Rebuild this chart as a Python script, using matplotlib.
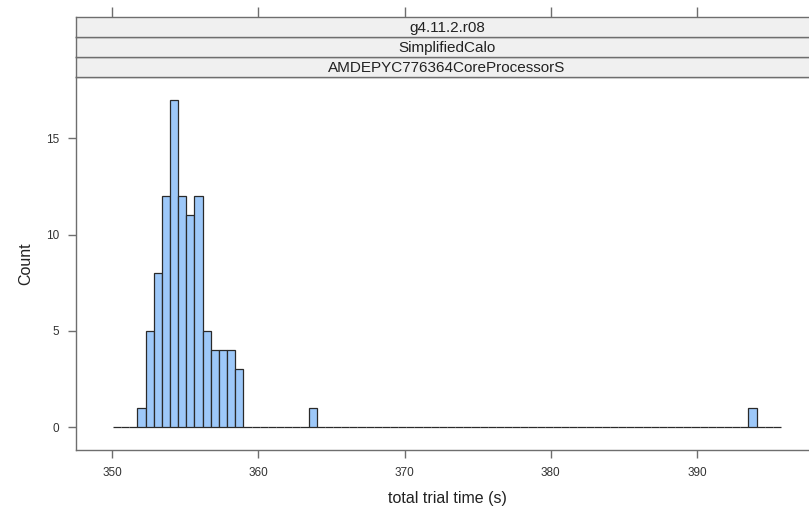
import numpy as np
import matplotlib.pyplot as plt

# histogram breaks (lattice style, equal widths)
brk_start = 350.07
brk_width = 0.557
n_bins = 82

# counts of the main cluster, starting at bin 3
main_counts = [1, 5, 8, 12, 17, 12, 11, 12, 5, 4, 4, 4, 3]
main_first_bin = 3
# lone slow runs
outlier_bins = [24, 78]
outlier_counts = [1, 1]

strip_labels = ["g4.11.2.r08", "SimplifiedCalo", "AMDEPYC776364CoreProcessorS"]
x_ticks = [350, 360, 370, 380, 390]
y_ticks = [0, 5, 10, 15]

counts = np.zeros(n_bins)
counts[main_first_bin:main_first_bin + len(main_counts)] = main_counts
for b, c in zip(outlier_bins, outlier_counts):
    counts[b] = c
edges = brk_start + brk_width * np.arange(n_bins + 1)

plt.rcParams['font.family'] = ['Liberation Sans', 'DejaVu Sans']
W, H = 809, 507
fig = plt.figure(figsize=(W / 100, H / 100), dpi=100)

def px(x0, y0, x1, y1):
    return [x0 / W, 1 - y1 / H, (x1 - x0) / W, (y1 - y0) / H]

ax = fig.add_axes(px(76, 77, 818, 450))
grey = '#6e6e6e'

ax.bar(edges[:-1], counts, width=brk_width, align='edge',
       color='#9DC8F9', edgecolor='#2a2a2a', linewidth=0.9)

ax.set_xlim(347.54, 398.27)
ax.set_ylim(-1.19, 18.19)
for s in ax.spines.values():
    s.set_color(grey)
    s.set_linewidth(1.0)
ax.set_xticks(x_ticks)
ax.set_yticks(y_ticks)
ax.tick_params(axis='both', colors=grey, labelcolor='#333333', labelsize=8.5,
               length=6, width=1.0, direction='out')
ax.tick_params(axis='y', pad=6)
ax.tick_params(axis='x', pad=6)
ax.set_xlabel('total trial time (s)', fontsize=11.5, color='#222222', labelpad=9)
ax.set_ylabel('Count', fontsize=11.5, color='#222222', labelpad=9)

# strips on top of the panel
strip_h = 20
top = 77
for i, lab in enumerate(reversed(strip_labels)):
    y1 = top - i * strip_h
    y0 = y1 - strip_h
    sax = fig.add_axes(px(76, y0, 818, y1))
    sax.set_xlim(347.54, 398.27)
    sax.set_ylim(0, 1)
    sax.set_facecolor('#f0f0f0')
    for s in sax.spines.values():
        s.set_color(grey)
        s.set_linewidth(1.0)
    sax.set_yticks([])
    if i == len(strip_labels) - 1:
        sax.set_xticks(x_ticks)
        sax.xaxis.tick_top()
        sax.tick_params(axis='x', colors=grey, labeltop=False, length=7,
                        width=1.0, direction='out')
    else:
        sax.set_xticks([])
    sax.text(0.5, 0.45, lab, transform=sax.transAxes, ha='center', va='center',
             fontsize=11, color='#222222')

fig.savefig('out.png', dpi=100)
